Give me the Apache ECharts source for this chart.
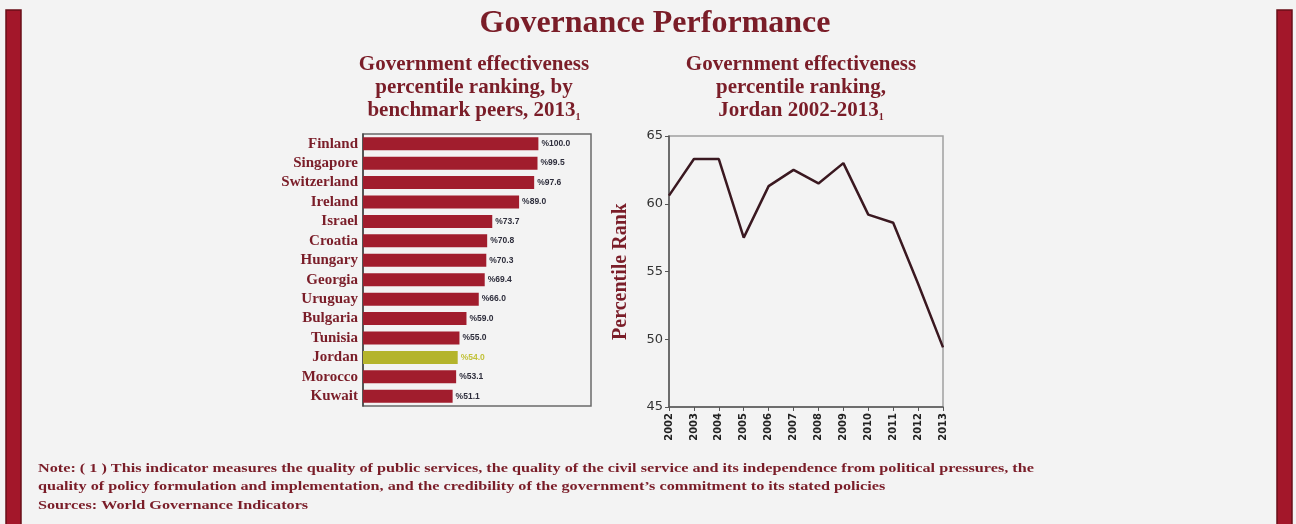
<!DOCTYPE html>
<html>
<head>
<meta charset="utf-8">
<title>Governance Performance</title>
<script src="https://cdn.jsdelivr.net/npm/echarts@6/dist/echarts.min.js"></script>
<style>
  html, body { margin: 0; padding: 0; background: #f3f3f3; }
  #chart { width: 1296px; height: 524px; }
</style>
</head>
<body>
<div id="chart"></div>
<script>
// Peer comparison, 2013 (percentile rank)
const countries = ['Finland', 'Singapore', 'Switzerland', 'Ireland', 'Israel', 'Croatia', 'Hungary',
  'Georgia', 'Uruguay', 'Bulgaria', 'Tunisia', 'Jordan', 'Morocco', 'Kuwait'];
const peerScores = [100.0, 99.5, 97.6, 89.0, 73.7, 70.8, 70.3, 69.4, 66.0, 59.0, 55.0, 54.0, 53.1, 51.1];
const highlightCountry = 'Jordan';

// Jordan over time (percentile rank)
const years = ['2002', '2003', '2004', '2005', '2006', '2007', '2008', '2009', '2010', '2011', '2012', '2013'];
const jordanRank = [60.6, 63.3, 63.3, 57.5, 61.3, 62.5, 61.5, 63.0, 59.2, 58.6, 54.1, 49.4];
const rankTicks = { min: 45, max: 65, step: 5 };

const noteLines = [
  'Note: ( 1 ) This indicator measures the quality of public services, the quality of the civil service and its independence from political pressures, the',
  'quality of policy formulation and implementation, and the credibility of the government\u2019s commitment to its stated policies',
  'Sources: World Governance Indicators'
];

const RED = '#a11d2d';
const OLIVE = '#b4b42c';
const TEXT_RED = '#7a1d28';
const SERIF = '"Liberation Serif", "DejaVu Serif", serif';
const SANS = '"DejaVu Sans", "Open Sans", sans-serif';
const NARROW_SANS = '"Liberation Sans", Arial, sans-serif';

const chart = echarts.init(document.getElementById('chart'));

const subRich = {
  m: { fontFamily: SERIF, fontWeight: 'bold', fontSize: 21, fill: TEXT_RED, lineHeight: 23 },
  s: { fontFamily: SERIF, fontWeight: 'bold', fontSize: 10, fill: TEXT_RED, verticalAlign: 'bottom', padding: [7, 0, 0, 0] }
};

const option = {
  backgroundColor: '#f3f3f3',
  animation: false,
  title: [
    {
      text: 'Governance Performance', left: 650, top: 3, textAlign: 'center',
      textStyle: { fontFamily: SERIF, fontWeight: 'bold', fontSize: 32, color: TEXT_RED }
    }
  ],
  graphic: [
    { type: 'rect', shape: { x: 6, y: 10, width: 15, height: 520 },
      style: { fill: '#a3172a', stroke: '#6a0f18', lineWidth: 1.5 } },
    { type: 'rect', shape: { x: 1277, y: 10, width: 15, height: 520 },
      style: { fill: '#a3172a', stroke: '#6a0f18', lineWidth: 1.5 } },
    { type: 'text', x: 474, y: 53, style: {
        text: '{m|Government effectiveness}\n{m|percentile ranking, by}\n{m|benchmark peers, 2013}{s|1}',
        rich: subRich, align: 'center' } },
    { type: 'text', x: 801, y: 53, style: {
        text: '{m|Government effectiveness}\n{m|percentile ranking,}\n{m|Jordan 2002-2013}{s|1}',
        rich: subRich, align: 'center' } },
    { type: 'text', x: 38, y: 459, scaleX: 1.2, style: {
        text: noteLines.join('\n'),
        fontFamily: SERIF, fontWeight: 'bold', fontSize: 13.5, lineHeight: 18.5, fill: TEXT_RED } }
  ],
  grid: [
    { left: 363, top: 134, width: 228, height: 272, show: true, borderColor: '#6a6a6a', borderWidth: 1.5, backgroundColor: 'transparent' },
    { left: 669, top: 136, width: 274, height: 271, show: true, borderColor: '#a0a0a0', borderWidth: 1.5, backgroundColor: 'transparent' }
  ],
  xAxis: [
    { gridIndex: 0, type: 'value', min: 0, max: 130, show: false },
    { gridIndex: 1, type: 'category', data: years, boundaryGap: false,
      axisLine: { lineStyle: { color: '#555', width: 1.5 } },
      axisTick: { show: true, length: 4, lineStyle: { color: '#555' } },
      axisLabel: { rotate: 90, interval: 0, margin: 6, fontFamily: SANS, fontWeight: 'bold', fontSize: 10, color: '#222' } }
  ],
  yAxis: [
    { gridIndex: 0, type: 'category', data: countries, inverse: true,
      axisLine: { lineStyle: { color: '#444', width: 1.5 } },
      axisTick: { show: false },
      axisLabel: { interval: 0, margin: 5, fontFamily: SERIF, fontWeight: 'bold', fontSize: 15, color: TEXT_RED } },
    { gridIndex: 1, type: 'value', min: rankTicks.min, max: rankTicks.max, interval: rankTicks.step,
      name: 'Percentile Rank', nameLocation: 'middle', nameRotate: 90, nameGap: 38,
      nameTextStyle: { fontFamily: SERIF, fontWeight: 'bold', fontSize: 20, color: TEXT_RED },
      axisLine: { show: true, lineStyle: { color: '#555', width: 1.5 } },
      axisTick: { show: true, length: 4, lineStyle: { color: '#555' } },
      splitLine: { show: false },
      axisLabel: { margin: 6, fontFamily: SANS, fontSize: 13, color: '#333' } }
  ],
  series: [
    {
      type: 'bar', xAxisIndex: 0, yAxisIndex: 0, barWidth: 13,
      data: peerScores.map((v, i) => ({
        value: v,
        itemStyle: { color: countries[i] === highlightCountry ? OLIVE : RED },
        label: { color: countries[i] === highlightCountry ? '#c2c23a' : '#2e2e3c' }
      })),
      label: { show: true, position: 'right', distance: 3, fontFamily: NARROW_SANS, fontWeight: 'bold', fontSize: 8.5,
        formatter: p => '%' + p.value.toFixed(1) }
    },
    {
      type: 'line', xAxisIndex: 1, yAxisIndex: 1, data: jordanRank,
      symbol: 'none', lineStyle: { color: '#3a1820', width: 2.5 }
    }
  ]
};

chart.setOption(option);
</script>
</body>
</html>
